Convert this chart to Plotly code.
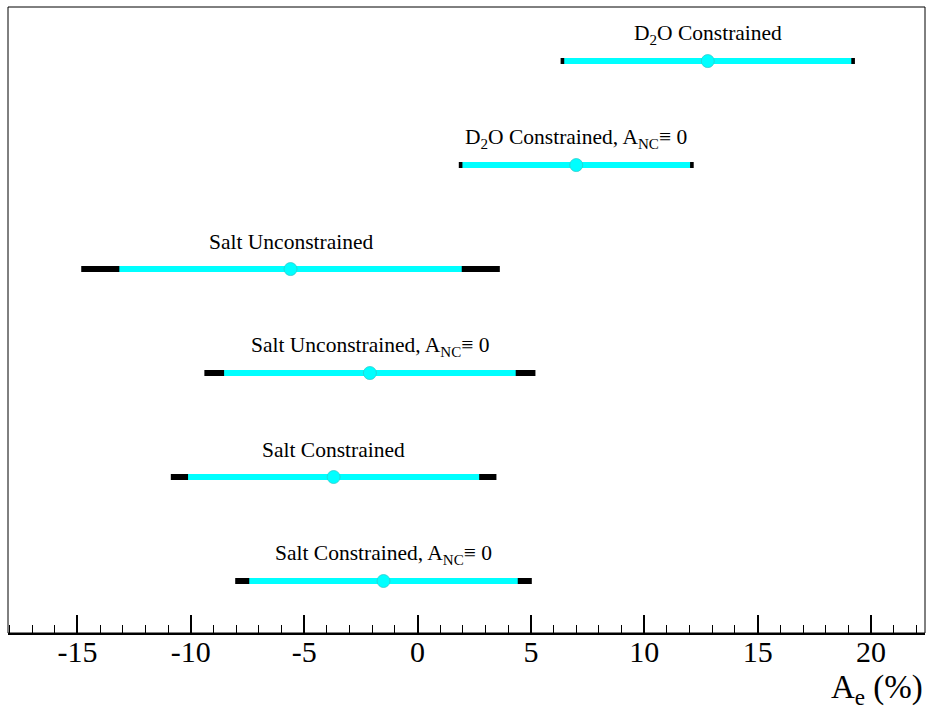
import plotly.graph_objects as go

# Fit results for the electron asymmetry A_e (%), top row first
labels = [
    "D<sub>2</sub>O Constrained",
    "D<sub>2</sub>O Constrained, A<sub>NC</sub>\u2261 0",
    "Salt Unconstrained",
    "Salt Unconstrained, A<sub>NC</sub>\u2261 0",
    "Salt Constrained",
    "Salt Constrained, A<sub>NC</sub>\u2261 0",
]
central = [12.8, 7.0, -5.6, -2.1, -3.7, -1.5]
stat_err = [6.33, 5.02, 7.55, 6.43, 6.42, 5.92]   # statistical only
total_err = [6.49, 5.18, 9.23, 7.30, 7.18, 6.54]  # stat + syst
row = [6, 5, 4, 3, 2, 1]

tick_vals = [-15, -10, -5, 0, 5, 10, 15, 20]
tick_text = ["-15", "-10", "-5", "0", "5", "10", "15", "20"]

FONT = "Liberation Serif, Times New Roman, serif"
CYAN = "#00ffff"

fig = go.Figure()

# total uncertainty underneath (black)
fig.add_trace(go.Scatter(
    x=central, y=row, mode="markers",
    marker=dict(size=1, color="rgba(0,0,0,0)"),
    error_x=dict(type="data", array=total_err, color="black",
                 thickness=6, width=0),
    hoverinfo="skip", showlegend=False,
))
# statistical uncertainty on top (cyan) with the central value
fig.add_trace(go.Scatter(
    x=central, y=row, mode="markers",
    marker=dict(size=13, color=CYAN, line=dict(color="#2ccccc", width=0.8)),
    error_x=dict(type="data", array=stat_err, color=CYAN,
                 thickness=6, width=0),
    showlegend=False,
))

for lab, c, r in zip(labels, central, row):
    fig.add_annotation(x=c, y=r, text=lab, showarrow=False, yshift=27,
                       font=dict(family=FONT, size=21.5, color="black"))

# axis title at lower right
fig.add_annotation(xref="paper", yref="paper", x=1.0, y=0, yshift=-56,
                   xanchor="right", yanchor="middle", showarrow=False,
                   text="A<sub>e</sub> (%)",
                   font=dict(family=FONT, size=33, color="black"))

# thin frame around the plot area
fig.add_shape(type="rect", xref="paper", yref="paper", x0=0, y0=0, x1=1, y1=1,
              line=dict(color="black", width=1))

fig.update_layout(
    width=932, height=710,
    margin=dict(l=8, r=7, t=7, b=77),
    paper_bgcolor="white", plot_bgcolor="white",
    font=dict(family=FONT, color="black"),
    xaxis=dict(
        range=[-18.06, 22.38], showgrid=False, zeroline=False,
        showline=True, linecolor="black", linewidth=2,
        ticks="inside", ticklen=18, tickwidth=1.5, tickcolor="black",
        tickmode="array", tickvals=tick_vals, ticktext=tick_text,
        ticklabelstandoff=-9,
        tickfont=dict(family=FONT, size=30, color="black"),
        minor=dict(dtick=1, tick0=0, ticks="inside", ticklen=8, tickwidth=1.2,
                   tickcolor="black", showgrid=False),
    ),
    yaxis=dict(
        range=[0.5, 6.52], showgrid=False, zeroline=False,
        showticklabels=False, ticks="", showline=False,
    ),
)

fig.write_html("out.html")
